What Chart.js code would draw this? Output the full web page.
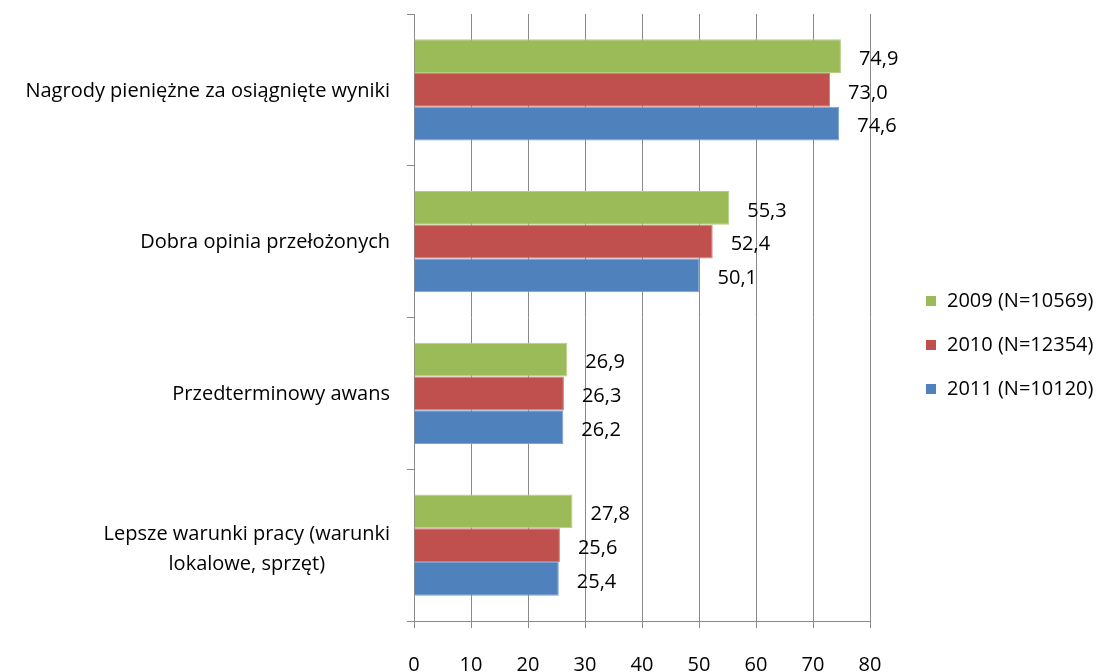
<!DOCTYPE html>
<html>
<head>
<meta charset="utf-8">
<script src="https://cdn.jsdelivr.net/npm/chart.js@4/dist/chart.umd.min.js"></script>
<style>
  html, body { margin: 0; padding: 0; background: #fff; }
</style>
</head>
<body>
<canvas id="chart" width="1104" height="672"></canvas>
<script>
const categories = [
    ['Nagrody pieniężne za osiągnięte wyniki'],
    ['Dobra opinia przełożonych'],
    ['Przedterminowy awans'],
    ['Lepsze warunki pracy (warunki', 'lokalowe, sprzęt)']
];
const seriesNames = ['2009 (N=10569)', '2010 (N=12354)', '2011 (N=10120)'];
const values2009 = [74.9, 55.3, 26.9, 27.8];
const values2010 = [73.0, 52.4, 26.3, 25.6];
const values2011 = [74.6, 50.1, 26.2, 25.4];
const xTicks = [0, 10, 20, 30, 40, 50, 60, 70, 80];

const colors = ['#9bbb59', '#c0504d', '#4f81bd'];
const edges = ['#b4cf82', '#d47a77', '#7aa2d3'];
const FONT = '"Open Sans", Lato, sans-serif';
const gridColor = '#8a8a8a';

// etykiety kategorii (wyrównane do prawej, wiele linii wyśrodkowane)
const categoryLabels = {
    id: 'categoryLabels',
    afterDraw(chart) {
        const ctx = chart.ctx;
        const y = chart.scales.y;
        ctx.save();
        ctx.font = '20px ' + FONT;
        ctx.fillStyle = '#000';
        ctx.textBaseline = 'middle';
        ctx.textAlign = 'center';
        const right = y.right - 24;
        const lh = 30;
        categories.forEach((lines, i) => {
            const cy = y.getPixelForValue(i) + 1 + (lines.length > 1 ? 3 : 0);
            const w = Math.max(...lines.map(l => ctx.measureText(l).width));
            const cx = right - w / 2;
            lines.forEach((l, j) => {
                ctx.fillText(l, cx, cy + (j - (lines.length - 1) / 2) * lh);
            });
        });
        ctx.restore();
    }
};

// wartości przy słupkach
const valueLabels = {
    id: 'valueLabels',
    afterDatasetsDraw(chart) {
        const ctx = chart.ctx;
        ctx.save();
        ctx.font = '20px ' + FONT;
        ctx.fillStyle = '#000';
        ctx.textBaseline = 'middle';
        ctx.textAlign = 'left';
        chart.data.datasets.forEach((ds, di) => {
            chart.getDatasetMeta(di).data.forEach((bar, i) => {
                const txt = ds.data[i].toFixed(1).replace('.', ',');
                ctx.fillText(txt, bar.x + 18, bar.y + 3);
            });
        });
        ctx.restore();
    }
};

// legenda po prawej
const sideLegend = {
    id: 'sideLegend',
    afterDraw(chart) {
        const ctx = chart.ctx;
        ctx.save();
        ctx.font = '20px ' + FONT;
        ctx.textBaseline = 'middle';
        ctx.textAlign = 'left';
        chart.data.datasets.forEach((ds, i) => {
            const cy = 301 + i * 44;
            ctx.fillStyle = ds.backgroundColor;
            ctx.fillRect(926, cy - 5, 10, 10);
            ctx.fillStyle = '#000';
            ctx.fillText(ds.label, 947, cy);
        });
        ctx.restore();
    }
};

const ctx = document.getElementById('chart').getContext('2d');
const chart = new Chart(ctx, {
    type: 'bar',
    data: {
        labels: categories.map(c => c.join(' ')),
        datasets: [
            { label: seriesNames[0], data: values2009, backgroundColor: colors[0], borderColor: edges[0], borderWidth: 1 },
            { label: seriesNames[1], data: values2010, backgroundColor: colors[1], borderColor: edges[1], borderWidth: 1 },
            { label: seriesNames[2], data: values2011, backgroundColor: colors[2], borderColor: edges[2], borderWidth: 1 }
        ]
    },
    options: {
        indexAxis: 'y',
        responsive: false,
        animation: false,
        devicePixelRatio: 1,
        categoryPercentage: 0.667,
        barPercentage: 1,
        layout: { padding: { top: 14, right: 234, left: 0, bottom: 0 } },
        plugins: {
            legend: { display: false },
            tooltip: { enabled: false }
        },
        scales: {
            x: {
                min: 0,
                max: 80,
                afterFit(scale) { scale.height = 51; },
                afterBuildTicks(scale) { scale.ticks = xTicks.map(v => ({ value: v })); },
                ticks: { color: '#000', font: { family: FONT, size: 20 }, padding: 25 },
                grid: { color: gridColor, lineWidth: 1, tickLength: 7, drawTicks: true },
                border: { color: gridColor, width: 1 }
            },
            y: {
                offset: true,
                afterFit(scale) { scale.width = 414; },
                ticks: { display: false },
                grid: { offset: true, drawOnChartArea: false, drawTicks: true, tickLength: 7, color: gridColor },
                border: { color: gridColor, width: 1 }
            }
        }
    },
    plugins: [categoryLabels, valueLabels, sideLegend]
});
</script>
</body>
</html>
